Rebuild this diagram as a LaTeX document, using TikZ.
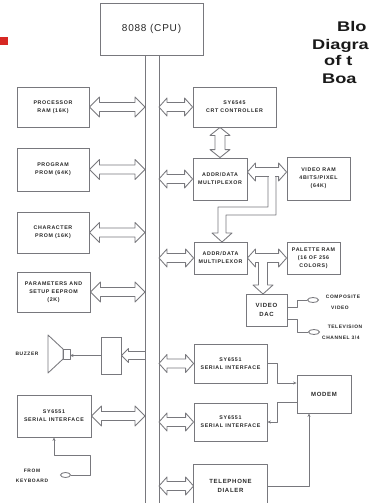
\documentclass[tikz,border=0pt]{standalone}
\usepackage{fontspec}
\usepackage{graphicx}
\setmainfont{Liberation Sans}
\newfontfamily\labfont[LetterSpace=12]{Liberation Sans}
\newfontfamily\cpufont[LetterSpace=8]{Liberation Sans}
\newfontfamily\titlefont{Liberation Sans}
\usetikzlibrary{arrows.meta,calc,shapes.geometric}
\definecolor{ln}{RGB}{120,120,125}
\definecolor{tx}{RGB}{40,40,40}
\definecolor{redsq}{RGB}{215,40,35}
\tikzset{
  wire/.style={draw=ln, line width=0.85pt, line join=round},
  tip/.style={wire, -{Stealth[length=3.5pt,width=3pt]}},
  box/.style={draw=ln, line width=0.85pt, inner sep=1pt, align=center, text=tx,
    font=\labfont\bfseries\fontsize{5.3}{8}\selectfont},
  lbl/.style={inner sep=0pt, align=center, text=tx, font=\labfont\bfseries\fontsize{4.9}{7.5}\selectfont},
  oval/.style={draw=ln, line width=0.85pt, ellipse, inner sep=0pt, minimum width=11pt, minimum height=5pt},
  ttl/.style={inner sep=0pt, anchor=base west, text=black!90, font=\titlefont\bfseries\fontsize{14}{14}\selectfont}
}
% horizontal hollow double arrow: #1 head length, #2 head half width, #3 shaft half width, #4 left point (gives y), #5 right point
\newcommand\HDA[5]{\draw[wire] let \p1=#4, \p2=#5 in
  (\x1,\y1) -- (\x1+#1,\y1+#2) -- (\x1+#1,\y1+#3) -- (\x2-#1,\y1+#3) -- (\x2-#1,\y1+#2) -- (\x2,\y1)
  -- (\x2-#1,\y1-#2) -- (\x2-#1,\y1-#3) -- (\x1+#1,\y1-#3) -- (\x1+#1,\y1-#2) -- cycle;}
% vertical hollow double arrow: #4 top point (gives x), #5 bottom point
\newcommand\VDA[5]{\draw[wire] let \p1=#4, \p2=#5 in
  (\x1,\y1) -- (\x1+#2,\y1-#1) -- (\x1+#3,\y1-#1) -- (\x1+#3,\y2+#1) -- (\x1+#2,\y2+#1) -- (\x1,\y2)
  -- (\x1-#2,\y2+#1) -- (\x1-#3,\y2+#1) -- (\x1-#3,\y1-#1) -- (\x1-#2,\y1-#1) -- cycle;}
\begin{document}
\begin{tikzpicture}[x=1pt,y=-1pt]
\useasboundingbox (0,0) rectangle (368,503);
\fill[white] (0,0) rectangle (368,503);
\fill[redsq] (0,37) rectangle (8,45);

% title (cut by the picture edge)
\node[ttl] (ti1) at (337,32) {\scalebox{1.3}[1]{Blo}};
\node[ttl] (ti2) at (312,49) {\scalebox{1.3}[1]{Diagra}};
\node[ttl] (ti3) at (324,66) {\scalebox{1.3}[1]{of t}};
\node[ttl] (ti4) at (322,83) {\scalebox{1.3}[1]{Boa}};

% CPU and bus
\node[box, minimum width=103pt, minimum height=52pt, font=\cpufont\fontsize{10}{10}\selectfont] (cpu) at (151.5,29) {8088 (CPU)};
\coordinate (busL) at (145,0);
\coordinate (busR) at (159,0);
\coordinate (bot) at (0,503.5);
\draw[wire] (cpu.south -| busL) -- (busL |- bot);
\draw[wire] (cpu.south -| busR) -- (busR |- bot);

% left column
\node[box, minimum width=72pt, minimum height=40pt] (pram) at (53,107) {PROCESSOR\\RAM (16K)};
\node[box, minimum width=72pt, minimum height=43pt] (prom) at (53,169.5) {PROGRAM\\PROM (64K)};
\node[box, minimum width=72pt, minimum height=41pt] (cprom) at (53,232.5) {CHARACTER\\PROM (16K)};
\node[box, minimum width=73pt, minimum height=40pt] (eeprom) at (53.5,292) {PARAMETERS AND\\SETUP EEPROM\\(2K)};
\node[box, minimum width=20pt, minimum height=37pt] (latch) at (111,355.5) {};
\node[box, minimum width=74pt, minimum height=42pt] (ser1L) at (54,416) {SY6551\\SERIAL INTERFACE};

\HDA{10pt}{10pt}{4.5pt}{(pram.east)}{(busL)}
\HDA{10pt}{10pt}{4.5pt}{(prom.east)}{(busL)}
\HDA{10pt}{10pt}{4.5pt}{(cprom.east)}{(busL)}
\HDA{10pt}{10pt}{4.5pt}{(eeprom.east)}{(busL)}
\HDA{10pt}{10pt}{4.5pt}{(ser1L.east)}{(busL)}
% single arrow to latch
\draw[wire] let \p1=(latch.east), \p2=(busL) in
  (\x2,\y1+4pt) -- (\x1+7pt,\y1+4pt) -- (\x1+7pt,\y1+7pt) -- (\x1,\y1)
  -- (\x1+7pt,\y1-7pt) -- (\x1+7pt,\y1-4pt) -- (\x2,\y1-4pt);

% buzzer
\draw[wire] (48,335) -- (63,349) -- (63,359) -- (48,373) -- cycle;
\draw[wire] (63,349) rectangle (70,359);
\coordinate (spk) at (70,354);
\draw[tip] (latch.west) -- (latch.west -| spk);
\node[lbl] (buzz) at (27,354) {BUZZER};

% keyboard
\node[oval, minimum width=10pt] (kb) at (65.5,475) {};
\draw[tip] (kb.east) -- (90,475) -- (90,455) -| (ser1L.south);
\node[lbl] (from) at (32,471) {FROM};
\node[lbl] (kbd) at (32,481) {KEYBOARD};

% right column
\node[box, minimum width=83pt, minimum height=40pt] (crt) at (234.5,107) {SY6545\\CRT CONTROLLER};
\node[box, minimum width=54pt, minimum height=42pt] (mux1) at (220,179) {ADDR/DATA\\MULTIPLEXOR};
\node[box, minimum width=63pt, minimum height=43pt] (vram) at (318.5,178.5) {VIDEO RAM\\4BITS/PIXEL\\(64K)};
\node[box, minimum width=53pt, minimum height=32pt] (mux2) at (220.5,258) {ADDR/DATA\\MULTIPLEXOR};
\node[box, minimum width=53pt, minimum height=32pt] (pal) at (313.5,258) {PALETTE RAM\\(16 OF 256\\COLORS)};
\node[box, minimum width=41pt, minimum height=32pt, font=\labfont\bfseries\fontsize{6}{9}\selectfont] (dac) at (266.5,310) {VIDEO\\DAC};
\node[box, minimum width=73pt, minimum height=39pt] (ser1R) at (230.5,363.5) {SY6551\\SERIAL INTERFACE};
\node[box, minimum width=73pt, minimum height=38pt] (ser2R) at (230.5,422) {SY6551\\SERIAL INTERFACE};
\node[box, minimum width=54pt, minimum height=38pt, font=\labfont\bfseries\fontsize{6}{8}\selectfont] (modem) at (324,394) {MODEM};
\node[box, draw=none, minimum width=73pt, minimum height=42pt, font=\labfont\bfseries\fontsize{6}{9}\selectfont] (dialer) at (230.5,486) {TELEPHONE\\DIALER};
\draw[wire] (dialer.west |- bot) |- (dialer.north east) -- (dialer.east |- bot);

\HDA{8pt}{9pt}{4.5pt}{(busR |- crt.west)}{(crt.west)}
\HDA{8pt}{9pt}{4.5pt}{(busR |- mux1.west)}{(mux1.west)}
\HDA{8pt}{9pt}{4.5pt}{(busR |- mux2.west)}{(mux2.west)}
\HDA{8pt}{9pt}{4.5pt}{(busR |- ser1R.west)}{(ser1R.west)}
\HDA{8pt}{9pt}{4.5pt}{(busR |- ser2R.west)}{(ser2R.west)}
\HDA{8pt}{9pt}{4.5pt}{(busR |- dialer.west)}{(dialer.west)}
\VDA{8pt}{10pt}{5pt}{(mux1.north |- crt.south)}{(mux1.north)}

% mux1 <-> video RAM, with branch down to mux2
\HDA{8pt}{9pt}{4.5pt}{([yshift=7pt]mux1.east)}{(vram.west)}
\fill[white] (268.6,175.6) rectangle (275.4,177.4);
\draw[wire] (268,176.5) -- (268,207) -- (218,207) -- (218,233) -- (212,233) -- (222,242)
  -- (232,233) -- (226,233) -- (226,215) -- (276,215) -- (276,176.5);

% mux2 <-> palette RAM, with branch down to video DAC
\HDA{8pt}{9pt}{4.5pt}{(mux2.east)}{(pal.west)}
\fill[white] (259.1,261.6) rectangle (266.9,263.4);
\draw[wire] (258.5,262.5) -- (258.5,285) -- (253,285) -- (263,294) -- (273,285) -- (267.5,285) -- (267.5,262.5);

% video outputs
\node[oval] (cv) at (313,300) {};
\node[oval] (tv) at (314,332) {};
\draw[wire] ([yshift=3pt]dac.east) -- (297,307) |- (cv.west);
\draw[wire] ([yshift=-9pt]dac.east) -- (297,319) |- (tv.west);
\node[lbl] (cvt1) at (343,297) {COMPOSITE};
\node[lbl] (cvt2) at (340,308) {VIDEO};
\node[lbl] (tvt1) at (345,327) {TELEVISION};
\node[lbl, anchor=west] (tvt2) at (322,338) {CHANNEL 3/4};

% modem connections
\draw[tip] (ser1R.east) -- (277,363.5) |- ([yshift=11pt]modem.west);
\draw[tip] ([yshift=-8pt]modem.west) -- (277,402) |- (ser2R.east);
\draw[tip] (dialer.east) -| ([xshift=-15pt]modem.south);
\end{tikzpicture}
\end{document}
